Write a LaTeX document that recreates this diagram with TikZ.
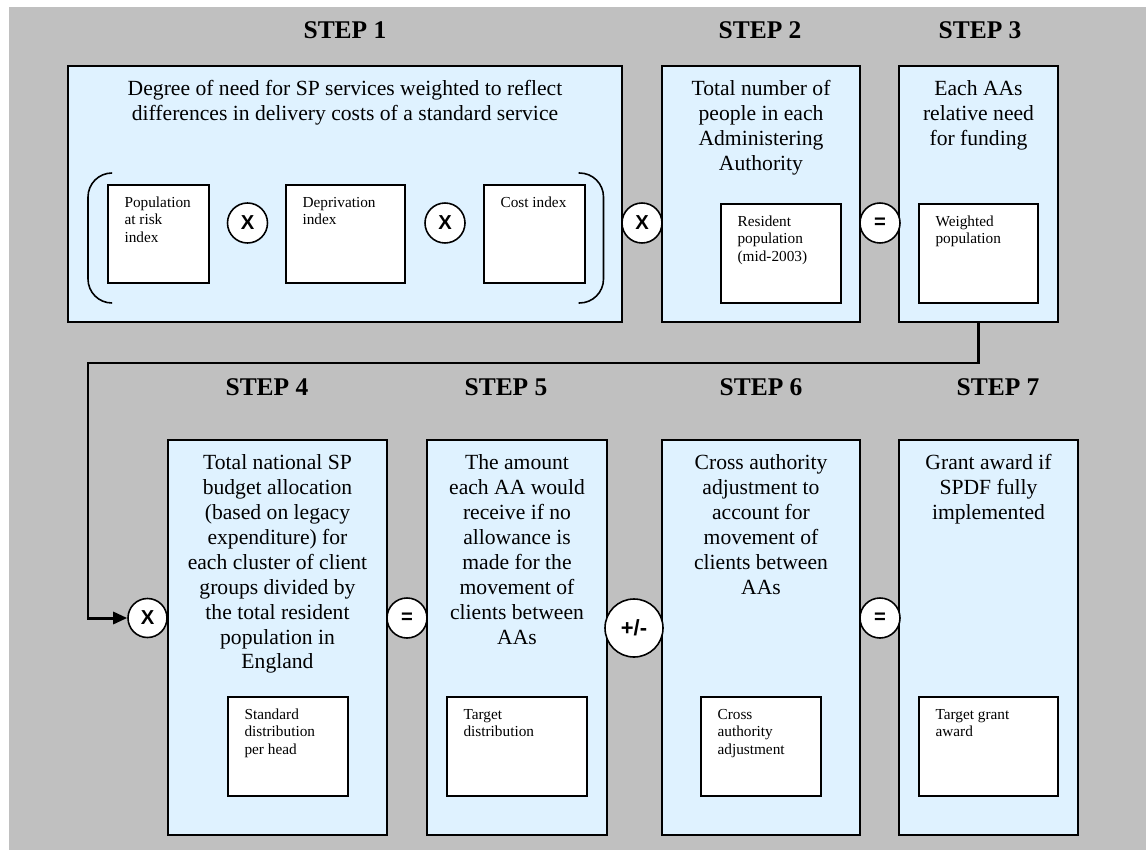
\documentclass[tikz,border=0pt]{standalone}
\usepackage{fontspec}
\setmainfont{Liberation Serif}
\newfontfamily\opfont{Liberation Sans}
\usepackage{xcolor}
\usepackage{tikz}
\usetikzlibrary{calc}
\usetikzlibrary{arrows, arrows.meta}

\definecolor{panelgray}{RGB}{192,192,192}
\definecolor{stepblue}{RGB}{223,242,255}

\begin{document}
\begin{tikzpicture}

% arguments: name, left, top, right, bottom (in mm), style
\newcommand{\setframe}[6]{%
\pgfmathsetmacro\framewidth{#4 - #2}
\pgfmathsetmacro\frameheight{#3 - #5}
\path ($ (#2mm, #3mm)!0.5!(#4mm, #5mm) $) node [#6, minimum width=\framewidth mm, minimum height=\frameheight mm] (#1) {} ;
}

% arguments: name of frame, text
\newcommand{\labelstep}[2]{%
\path (#1.north) node [steptext] (#1text) {\strut #2} ;
}

% arguments: name of frame, text
\newcommand{\labelinner}[2]{%
\path (#1.north west) node [innertext] (#1text) {\strut #2} ;
}

% arguments: name, x, y, diameter, symbol
\newcommand{\setoperator}[5]{%
\path (#2mm, #3mm) node [opcircle, minimum size=#4mm] (#1) {#5} ;
}

\tikzset{%
stepframe/.style={draw=black, line width=1.1pt, fill=stepblue},
innerframe/.style={draw=black, line width=0.9pt, fill=white},
steptext/.style={anchor=north, yshift=-2.5mm, inner sep=0, align=center, font=\fontsize{12.3}{14.2}\selectfont},
innertext/.style={anchor=north west, xshift=3.4mm, yshift=-2.1mm, inner sep=0, align=left, font=\fontsize{8.7}{10}\selectfont},
opcircle/.style={circle, draw=black, line width=0.9pt, fill=white, inner sep=0, font=\opfont\bfseries\fontsize{11.5}{13}\selectfont},
steptitle/.style={anchor=base, inner sep=0, font=\bfseries\fontsize{14.5}{17}\selectfont},
link/.style={line width=1.7pt, -{Triangle[length=2.8mm, width=2.4mm]}},
bracket/.style={line width=0.9pt, rounded corners=4.8mm}%
}

\useasboundingbox (0, 0) rectangle (229.2mm, -170mm) ;
\fill [panelgray] (1.8mm, -1.4mm) rectangle (229.2mm, -170mm) ;

% step titles

\path (69mm, -7.8mm) node [steptitle] (step1) {STEP 1} ;
\path (152mm, -7.8mm) node [steptitle] (step2) {STEP 2} ;
\path (196mm, -7.8mm) node [steptitle] (step3) {STEP 3} ;
\path (53.4mm, -79mm) node [steptitle] (step4) {STEP 4} ;
\path (101.2mm, -79mm) node [steptitle] (step5) {STEP 5} ;
\path (152.2mm, -79mm) node [steptitle] (step6) {STEP 6} ;
\path (199.6mm, -79mm) node [steptitle] (step7) {STEP 7} ;

% draw step frames

\setframe{s1}{13.6}{-13.2}{124.4}{-64.4}{stepframe}
\setframe{s2}{132.4}{-13.2}{172}{-64.4}{stepframe}
\setframe{s3}{179.8}{-13.2}{211.6}{-64.4}{stepframe}
\setframe{s4}{33.6}{-88}{77.4}{-167}{stepframe}
\setframe{s5}{85.4}{-88}{121.4}{-167}{stepframe}
\setframe{s6}{132.4}{-88}{172}{-167}{stepframe}
\setframe{s7}{179.8}{-88}{215.6}{-167}{stepframe}

\labelstep{s1}{Degree of need for SP services weighted to reflect\\differences in delivery costs of a standard service}
\labelstep{s2}{Total number of\\people in each\\Administering\\Authority}
\labelstep{s3}{Each AAs\\relative need\\for funding}
\labelstep{s4}{Total national SP\\budget allocation\\(based on legacy\\expenditure) for\\each cluster of client\\groups divided by\\the total resident\\population in\\England}
\labelstep{s5}{The amount\\each AA would\\receive if no\\allowance is\\made for the\\movement of\\clients between\\AAs}
\labelstep{s6}{Cross authority\\adjustment to\\account for\\movement of\\clients between\\AAs}
\labelstep{s7}{Grant award if\\SPDF fully\\implemented}

% carry step 3 down to step 4

\path (17.6mm, -72.6mm) node [shape=coordinate] (bend) {} ;

% draw inner frames

\setframe{s1a}{21.6}{-37}{41.8}{-56.6}{innerframe}
\setframe{s1b}{57.2}{-37}{81}{-56.6}{innerframe}
\setframe{s1c}{96.8}{-37}{117}{-56.6}{innerframe}
\setframe{s2a}{144.2}{-40.8}{168.2}{-60.6}{innerframe}
\setframe{s3a}{183.8}{-40.8}{207.6}{-60.6}{innerframe}
\setframe{s4a}{45.6}{-139.4}{69.6}{-159.2}{innerframe}
\setframe{s5a}{89.4}{-139.4}{117.4}{-159.2}{innerframe}
\setframe{s6a}{140.2}{-139.4}{164.2}{-159.2}{innerframe}
\setframe{s7a}{183.8}{-139.4}{211.6}{-159.2}{innerframe}

\labelinner{s1a}{Population\\at risk\\index}
\labelinner{s1b}{Deprivation\\index}
\labelinner{s1c}{Cost index}
\labelinner{s2a}{Resident\\population\\(mid-2003)}
\labelinner{s3a}{Weighted\\population}
\labelinner{s4a}{Standard\\distribution\\per head}
\labelinner{s5a}{Target\\distribution}
\labelinner{s6a}{Cross\\authority\\adjustment}
\labelinner{s7a}{Target grant\\award}

% brackets round the step 1 product

\draw [bracket] (22.4mm, -34.6mm) -- (17.6mm, -34.6mm) -- (17.6mm, -60.6mm) -- (22.4mm, -60.6mm) ;
\draw [bracket] (115.7mm, -34.6mm) -- (120.7mm, -34.6mm) -- (120.7mm, -60.6mm) -- (115.7mm, -60.6mm) ;

% draw operators

\setoperator{op1}{49.5}{-44.6}{8}{X}
\setoperator{op2}{89}{-44.6}{8}{X}
\setoperator{op3}{128.4}{-44.6}{8}{X}
\setoperator{op4}{176}{-44.6}{8}{=}
\setoperator{op5}{29.5}{-123.6}{7.8}{X}
\setoperator{op6}{81.4}{-123.6}{8}{=}
\setoperator{op7}{126.8}{-125.6}{11.6}{\fontsize{12.5}{14}\selectfont +/-}
\setoperator{op8}{176}{-123.6}{8}{=}

\draw [link] (s3.south) |- (bend) |- (op5.west) ;

\end{tikzpicture}
\end{document}
